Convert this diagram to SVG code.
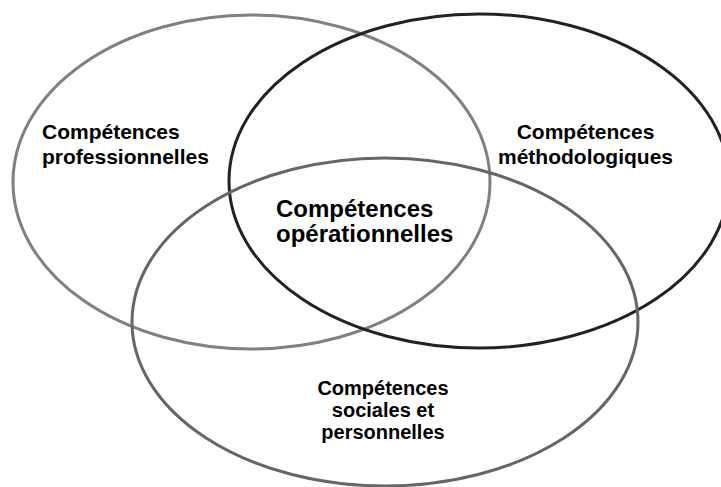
<svg xmlns="http://www.w3.org/2000/svg" width="721" height="487" viewBox="0 0 721 487">
  <style>
    .ring { fill: none; stroke-width: 3; }
    .label { font-family: "Liberation Sans", Arial, sans-serif; font-weight: bold; fill: #000; }
  </style>
  <rect width="721" height="487" fill="#fff"/>
  <g id="connectors"/>
  <g id="professionnelles">
    <ellipse class="ring" cx="251.5" cy="182" rx="238.5" ry="167" stroke="#808080"/>
    <text class="label" font-size="21" x="42" y="139">Compétences</text>
    <text class="label" font-size="21" x="42" y="164">professionnelles</text>
  </g>
  <g id="methodologiques">
    <ellipse class="ring" cx="479" cy="181" rx="250" ry="167" stroke="#222"/>
    <text class="label" font-size="21" x="585.5" y="139" text-anchor="middle">Compétences</text>
    <text class="label" font-size="21" x="585.5" y="164" text-anchor="middle">méthodologiques</text>
  </g>
  <g id="sociales">
    <ellipse class="ring" cx="385" cy="322" rx="253" ry="164" stroke="#666"/>
    <text class="label" font-size="20" x="383" y="395" text-anchor="middle">Compétences</text>
    <text class="label" font-size="20" x="383" y="417" text-anchor="middle">sociales et</text>
    <text class="label" font-size="20" x="383" y="439" text-anchor="middle">personnelles</text>
  </g>
  <g id="operationnelles">
    <text class="label" font-size="24" x="276" y="217">Compétences</text>
    <text class="label" font-size="24" x="276" y="242">opérationnelles</text>
  </g>
</svg>
